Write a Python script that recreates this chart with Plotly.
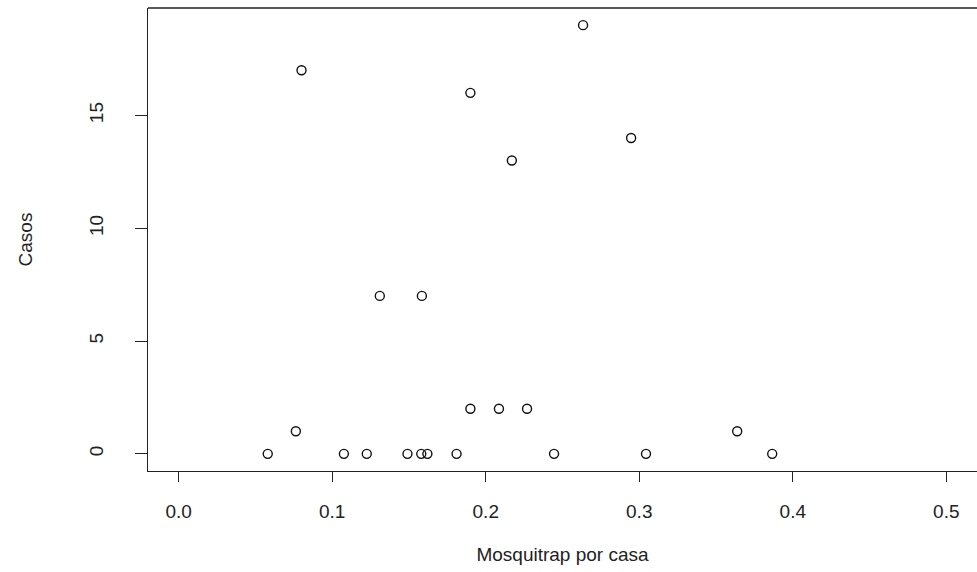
import plotly.graph_objects as go

# Data
mosquitrap_por_casa = [0.058, 0.1076, 0.1225, 0.149, 0.158, 0.162, 0.181, 0.2445, 0.3044, 0.3866,
                       0.0763, 0.3638,
                       0.190, 0.2086, 0.2269,
                       0.131, 0.1584,
                       0.217, 0.2947, 0.190, 0.080, 0.2634]
casos = [0, 0, 0, 0, 0, 0, 0, 0, 0, 0,
         1, 1,
         2, 2, 2,
         7, 7,
         13, 14, 16, 17, 19]

x_ticks = [0.0, 0.1, 0.2, 0.3, 0.4, 0.5]
x_ticklabels = ["0.0", "0.1", "0.2", "0.3", "0.4", "0.5"]
y_ticks = [0, 5, 10, 15]
y_ticklabels = ["0", "5", "10", "15"]

FONT = "Liberation Sans, Arial, sans-serif"
TXT = "#222222"
FS = 19

fig = go.Figure()
fig.add_trace(go.Scatter(
    x=mosquitrap_por_casa, y=casos, mode="markers",
    marker=dict(symbol="circle-open", size=9, color="#111111", line=dict(width=1.4, color="#111111")),
    showlegend=False, hoverinfo="x+y",
))

fig.update_layout(
    width=977, height=572,
    margin=dict(l=148, r=0, t=8, b=101),
    paper_bgcolor="white", plot_bgcolor="white",
    font=dict(family=FONT, size=FS, color=TXT),
    xaxis=dict(
        range=[-0.02, 0.52], showgrid=False, zeroline=False,
        showline=True, linecolor="#222222", linewidth=1.3,
        ticks="outside", ticklen=10, tickwidth=1.3, tickcolor="#222222",
        tickvals=x_ticks, ticktext=x_ticklabels, ticklabelstandoff=13,
        tickfont=dict(family=FONT, size=FS, color=TXT),
        title=dict(text="Mosquitrap por casa", standoff=26, font=dict(family=FONT, size=FS, color=TXT)),
    ),
    yaxis=dict(
        range=[-0.76, 19.76], showgrid=False, zeroline=False,
        showline=True, linecolor="#222222", linewidth=1.3,
        ticks="outside", ticklen=12, tickwidth=1.3, tickcolor="#222222",
        tickvals=y_ticks, ticktext=y_ticklabels, tickangle=-90, ticklabelstandoff=24,
        tickfont=dict(family=FONT, size=FS, color=TXT),
        title=dict(text="Casos", standoff=48, font=dict(family=FONT, size=FS, color=TXT)),
    ),
    shapes=[dict(type="line", xref="paper", yref="paper", x0=0, x1=1, y0=1, y1=1,
                 line=dict(color="#222222", width=1.3))],
)

fig.write_html("out.html")
